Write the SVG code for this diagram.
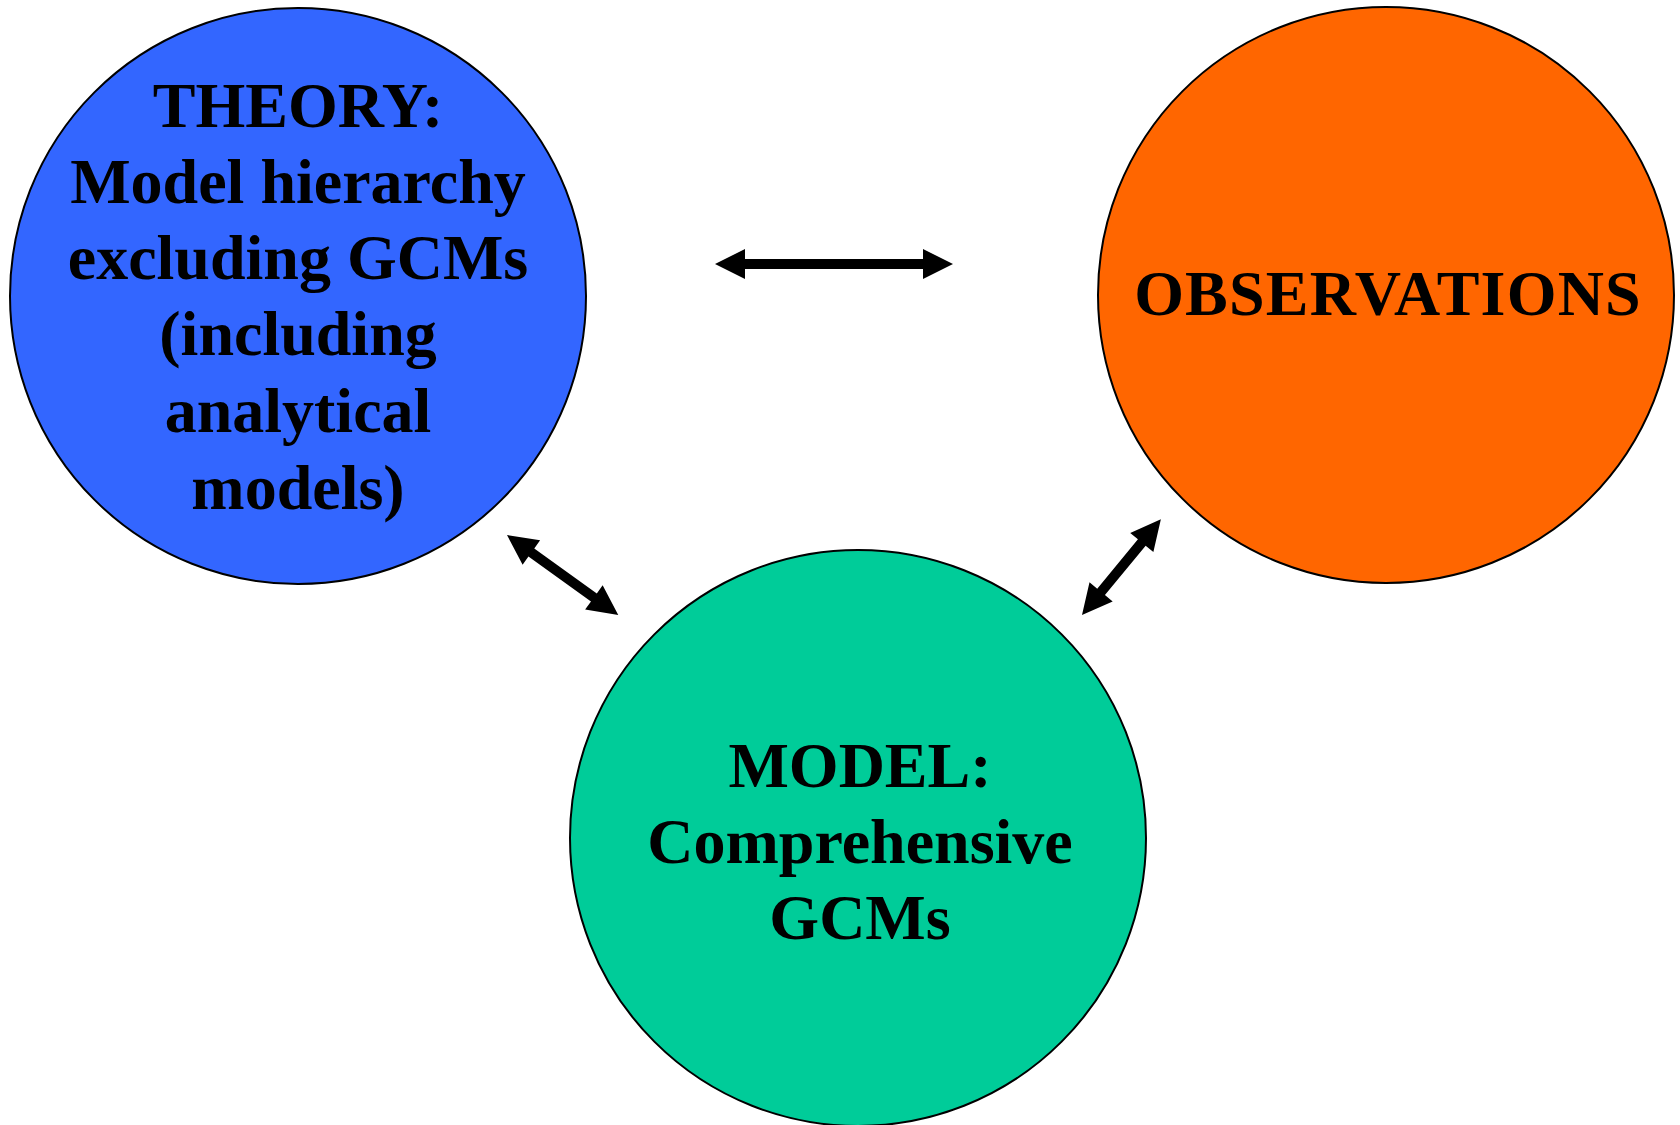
<svg xmlns="http://www.w3.org/2000/svg" width="1680" height="1125" viewBox="0 0 1680 1125">
<style>
.node circle{stroke:#000;stroke-width:2}
.lbl{font-family:"Liberation Serif","Times New Roman",serif;font-weight:bold;font-size:64px;fill:#000;text-anchor:middle}
.arrow{fill:#000}
</style>
<rect width="1680" height="1125" fill="#fff"/>
<g id="theory" class="node">
<circle cx="298" cy="296" r="288" fill="#3366FF"/>
<text class="lbl" x="298" y="127">THEORY:</text>
<text class="lbl" x="298" y="203">Model hierarchy</text>
<text class="lbl" x="298" y="279">excluding GCMs</text>
<text class="lbl" x="298" y="355">(including</text>
<text class="lbl" x="298" y="432">analytical</text>
<text class="lbl" x="298" y="509">models)</text>
</g>
<g id="observations" class="node">
<circle cx="1386" cy="295" r="288" fill="#FF6600"/>
<text class="lbl" x="1388" y="315" letter-spacing="1.2">OBSERVATIONS</text>
</g>
<g id="model" class="node">
<circle cx="858" cy="838" r="288" fill="#00CC99"/>
<text class="lbl" x="860" y="787">MODEL:</text>
<text class="lbl" x="860" y="863">Comprehensive</text>
<text class="lbl" x="860" y="939">GCMs</text>
</g>
<g id="connectors">
<polygon class="arrow" transform="translate(715,264)" points="0,0 30,-15 30,-5 208,-5 208,-15 238,0 208,15 208,5 30,5 30,15"/>
<polygon class="arrow" transform="translate(507,535) rotate(35.7)" points="0,0 30,-15 30,-5 107,-5 107,-15 137,0 107,15 107,5 30,5 30,15"/>
<polygon class="arrow" transform="translate(1082,615) rotate(-50.5)" points="0,0 30,-15 30,-5 94,-5 94,-15 124,0 94,15 94,5 30,5 30,15"/>
</g>
</svg>
